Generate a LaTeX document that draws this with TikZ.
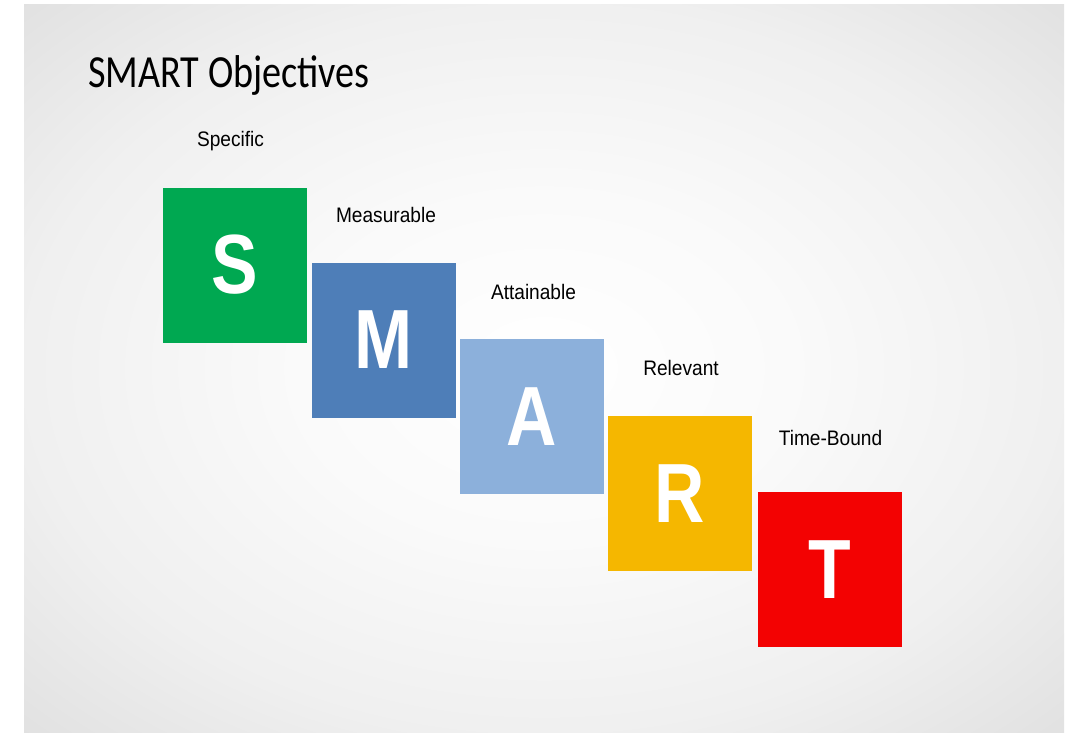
\documentclass[tikz,border=0pt]{standalone}
\usepackage{fontspec}
\setmainfont{Liberation Sans}
\newfontfamily\titlefont{Carlito}
\definecolor{sgreen}{RGB}{0,168,81}
\definecolor{mblue}{RGB}{78,126,184}
\definecolor{alight}{RGB}{140,176,219}
\definecolor{ryellow}{RGB}{245,183,0}
\definecolor{tred}{RGB}{243,2,2}
\pgfdeclareradialshading{slidebg}{\pgfpoint{0bp}{0bp}}{color(0bp)=(white); color(12bp)=(white!98!black); color(25bp)=(white!94!black); color(36bp)=(white!88!black); color(50bp)=(white!88!black)}
\begin{document}
\begin{tikzpicture}[x=1pt,y=-1pt]
	\tikzstyle{every node}+=[inner sep=0pt]
	\tikzstyle{box}=[minimum width=144pt, minimum height=155pt]
	\tikzstyle{letter}=[text=white, font=\fontsize{84}{84}\selectfont\bfseries, xscale=0.83, transform shape]
	\tikzstyle{label}=[anchor=base, font=\fontsize{21}{21}\selectfont, xscale=0.91, transform shape]
	\useasboundingbox (0,0) rectangle (1071,732);
	\fill [white] (0,0) rectangle (1071,732);
	\shade [shading=slidebg] (24,4) rectangle (1064,732);
	\node [anchor=base west, font=\titlefont\fontsize{46}{46}\selectfont, xscale=0.83, transform shape] (title) at (88,87) {SMART Objectives};
	\node [box, fill=sgreen] (s) at (235,265) {};
	\node [letter] (sl) at (s) {S};
	\node [label] (specific) at (230.5,146) {Specific};
	\node [box, fill=mblue] (m) at (384,340) {};
	\node [letter] (ml) at (m) {M};
	\node [label] (measurable) at (386,222) {Measurable};
	\node [box, fill=alight] (a) at (532,416.5) {};
	\node [letter] (al) at (a) {A};
	\node [label] (attainable) at (533.5,299) {Attainable};
	\node [box, fill=ryellow] (r) at (680,493.5) {};
	\node [letter] (rl) at (r) {R};
	\node [label] (relevant) at (681,375) {Relevant};
	\node [box, fill=tred] (t) at (829.5,569.5) {};
	\node [letter] (tl) at (t) {T};
	\node [label] (timebound) at (830.5,445) {Time-Bound};
	\end{tikzpicture}
\end{document}
